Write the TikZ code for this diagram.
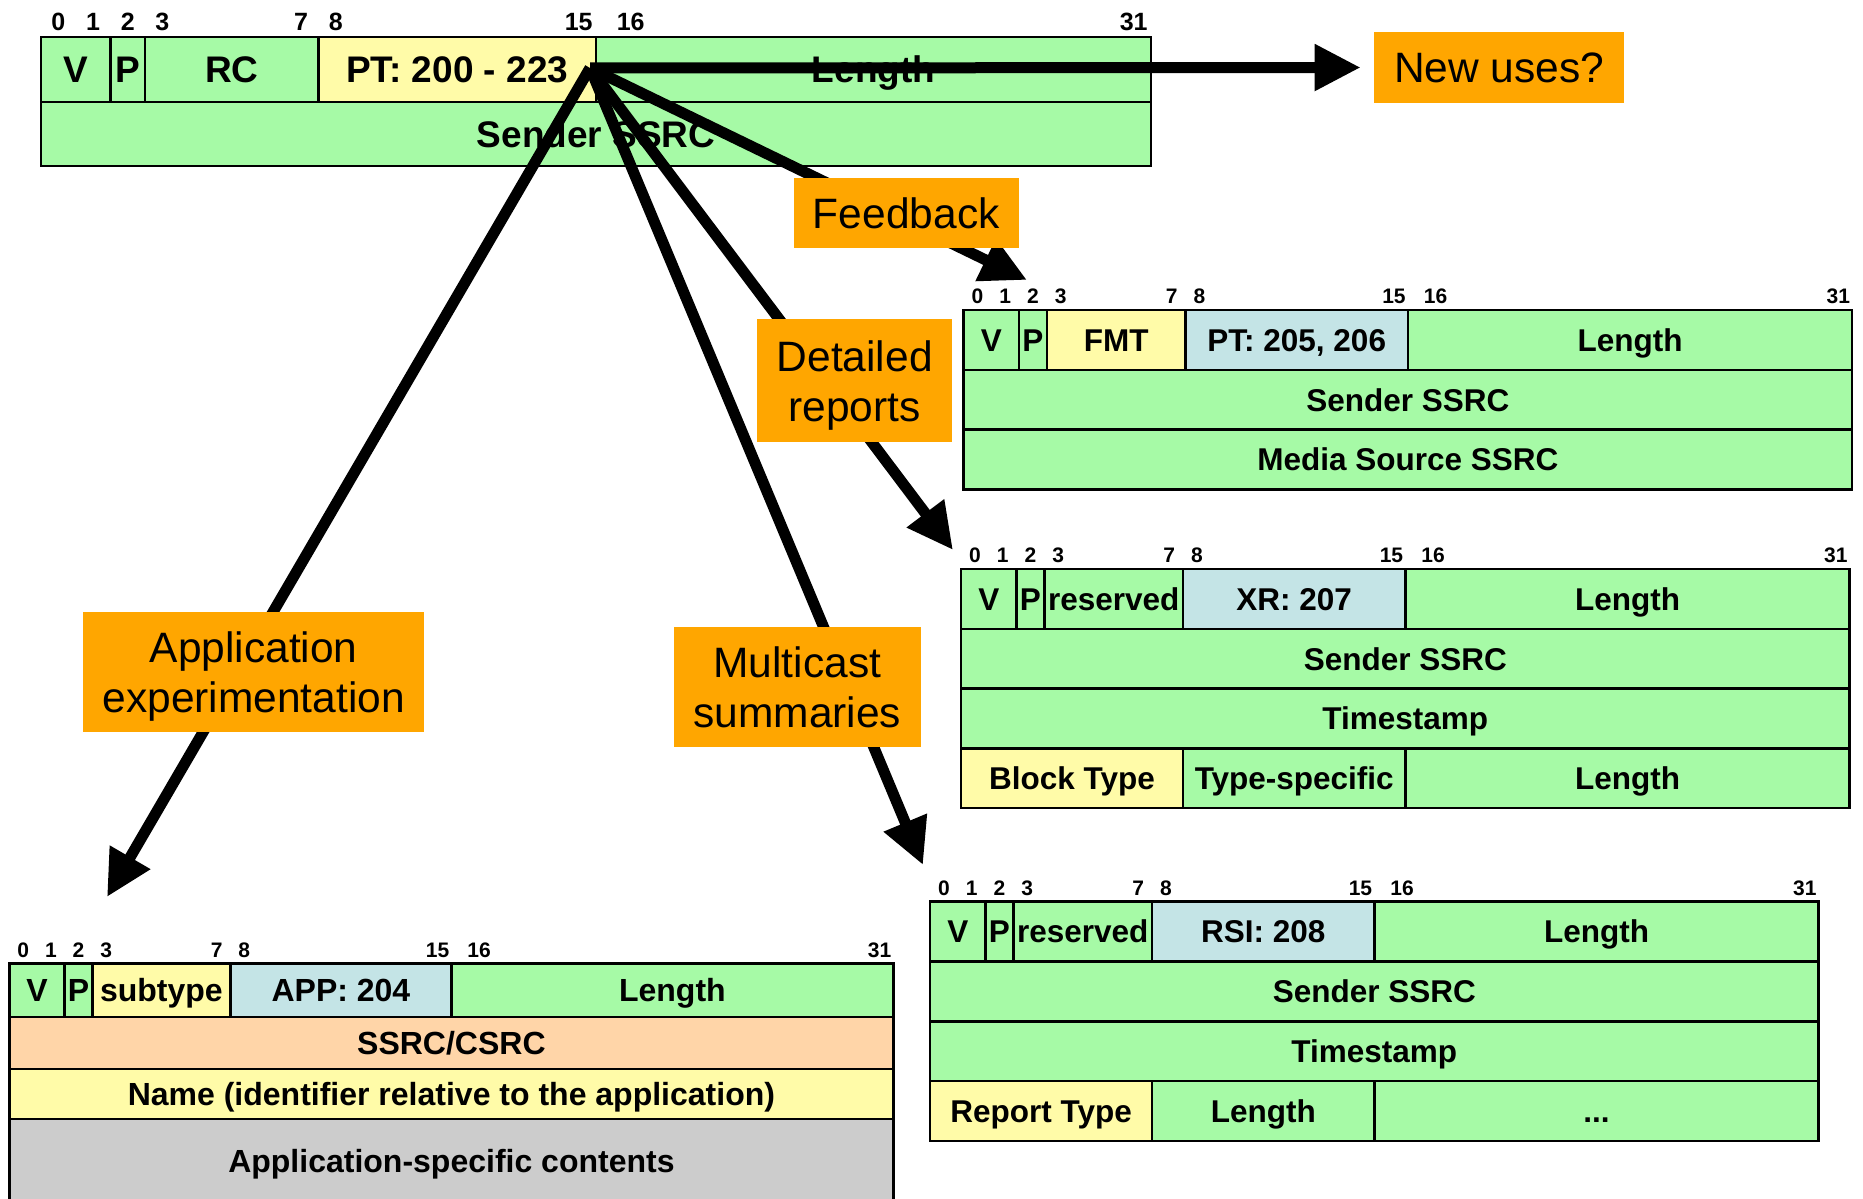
\documentclass[tikz,border=0pt]{standalone}
\usepackage{fontspec}
\setmainfont{Liberation Sans}
\usetikzlibrary{positioning,arrows.meta}

\definecolor{grn}{RGB}{166,250,166}
\definecolor{ylw}{RGB}{255,251,168}
\definecolor{blu}{RGB}{196,228,230}
\definecolor{slm}{RGB}{255,213,168}
\definecolor{gry}{RGB}{204,204,204}
\definecolor{orng}{RGB}{255,166,0}

% bit numbers above the first row of a packet
\newcommand{\bitnums}[2]{%
	\foreach \lbl/\pos in {0/0.5,1/1.5,2/2.5,3/3.5,7/7.5,8/8.5,15/15.5,16/17,31/31.5}
		\node[num, anchor=base] at ([xshift=\pos*#2, yshift=6.5pt]#1.north west) {\lbl};}

\begin{document}
\begin{tikzpicture}[x=1pt, y=-1pt,
	fld/.style={draw, line width=2.5pt, fill=#1, inner sep=0pt, outer sep=0pt, minimum height=\rh, text height=\tht, text depth=0pt, font=\bfseries\fontsize{\fs}{\fs}\selectfont},
	bits/.style={minimum width=#1*\bw},
	num/.style={inner sep=0pt, font=\bfseries\fontsize{\ns}{\ns}\selectfont},
	tag/.style={fill=orng, inner sep=0pt, align=center, anchor=north west, text depth=0pt, font=\fontsize{42.5}{50}\selectfont},
	arr/.style={line width=11pt, -{Triangle[length=46pt,width=44pt]}}]
	\useasboundingbox (0,0) rectangle (1863,1199);
	\clip (0,0) rectangle (1863,1199);

	% common header
	\def\bw{34.69pt}\def\rh{65pt}\def\fs{37}\def\tht{26.5pt}\def\ns{25}
	\node[fld=grn, bits=2, anchor=north west] (tpV) at (41,37) {V};
	\node[fld=grn, bits=1, right=0pt of tpV] (tpP) {P};
	\node[fld=grn, bits=5, right=0pt of tpP] (tpRC) {RC};
	\node[fld=ylw, bits=8, right=0pt of tpRC] (tpPT) {PT: 200 - 223};
	\node[fld=grn, bits=16, right=0pt of tpPT] (tpLen) {Length};
	\def\rh{64pt}
	\node[fld=grn, bits=32, anchor=north west] (tpSSRC) at (tpV.south west) {Sender SSRC};
	\bitnums{tpV}{\bw}

	% feedback
	\def\bw{27.77pt}\def\rh{59.8pt}\def\fs{31.5}\def\tht{22.6pt}\def\ns{21}
	\node[fld=grn, bits=2, anchor=north west] (fbV) at (963.5,310) {V};
	\node[fld=grn, bits=1, right=0pt of fbV] (fbP) {P};
	\node[fld=ylw, bits=5, right=0pt of fbP] (fbFMT) {FMT};
	\node[fld=blu, bits=8, right=0pt of fbFMT] (fbPT) {PT: 205, 206};
	\node[fld=grn, bits=16, right=0pt of fbPT] (fbLen) {Length};
	\node[fld=grn, bits=32, anchor=north west] (fbSSRC) at (fbV.south west) {Sender SSRC};
	\node[fld=grn, bits=32, anchor=north west] (fbMedia) at (fbSSRC.south west) {Media Source SSRC};
	\bitnums{fbV}{\bw}

	% extended reports
	\node[fld=grn, bits=2, anchor=north west] (xrV) at (961,569) {V};
	\node[fld=grn, bits=1, right=0pt of xrV] (xrP) {P};
	\node[fld=grn, bits=5, right=0pt of xrP] (xrRes) {reserved};
	\node[fld=blu, bits=8, right=0pt of xrRes] (xrXR) {XR: 207};
	\node[fld=grn, bits=16, right=0pt of xrXR] (xrLen) {Length};
	\node[fld=grn, bits=32, anchor=north west] (xrSSRC) at (xrV.south west) {Sender SSRC};
	\node[fld=grn, bits=32, anchor=north west] (xrTS) at (xrSSRC.south west) {Timestamp};
	\node[fld=ylw, bits=8, anchor=north west] (xrBT) at (xrTS.south west) {Block Type};
	\node[fld=grn, bits=8, right=0pt of xrBT] (xrSpec) {Type-specific};
	\node[fld=grn, bits=16, right=0pt of xrSpec] (xrBLen) {Length};
	\bitnums{xrV}{\bw}

	% receiver summary information
	\node[fld=grn, bits=2, anchor=north west] (rsV) at (930,901.7) {V};
	\node[fld=grn, bits=1, right=0pt of rsV] (rsP) {P};
	\node[fld=grn, bits=5, right=0pt of rsP] (rsRes) {reserved};
	\node[fld=blu, bits=8, right=0pt of rsRes] (rsRSI) {RSI: 208};
	\node[fld=grn, bits=16, right=0pt of rsRSI] (rsLen) {Length};
	\node[fld=grn, bits=32, anchor=north west] (rsSSRC) at (rsV.south west) {Sender SSRC};
	\node[fld=grn, bits=32, anchor=north west] (rsTS) at (rsSSRC.south west) {Timestamp};
	\node[fld=ylw, bits=8, anchor=north west] (rsRT) at (rsTS.south west) {Report Type};
	\node[fld=grn, bits=8, right=0pt of rsRT] (rsRLen) {Length};
	\node[fld=grn, bits=16, right=0pt of rsRLen] (rsMore) {...};
	\bitnums{rsV}{\bw}

	% application defined
	\def\bw{27.62pt}\def\rh{53.5pt}\def\fs{32}\def\tht{22.9pt}
	\node[fld=grn, bits=2, anchor=north west] (apV) at (9.5,963.5) {V};
	\node[fld=grn, bits=1, right=0pt of apV] (apP) {P};
	\node[fld=ylw, bits=5, right=0pt of apP] (apSub) {subtype};
	\node[fld=blu, bits=8, right=0pt of apSub] (apAPP) {APP: 204};
	\node[fld=grn, bits=16, right=0pt of apAPP] (apLen) {Length};
	\def\rh{52pt}
	\node[fld=slm, bits=32, anchor=north west] (apSSRC) at (apV.south west) {SSRC/CSRC};
	\def\rh{50pt}
	\node[fld=ylw, bits=32, anchor=north west] (apName) at (apSSRC.south west) {Name (identifier relative to the application)};
	\def\rh{84pt}
	\node[fld=gry, bits=32, anchor=north west] (apData) at (apName.south west) {Application-specific contents};
	\bitnums{apV}{\bw}

	% arrows out of the packet type
	\coordinate (hub) at (590,68);
	\coordinate (newTip) at (1360.7,67.5);
	\coordinate (fbTip) at (1027,280);
	\coordinate (xrTip) at (953,550);
	\coordinate (rsTip) at (923,865);
	\coordinate (apTip) at (107,897);
	\draw[arr] (hub) -- (newTip);
	\draw[arr] (hub) -- (fbTip);
	\draw[arr] (hub) -- (xrTip);
	\draw[arr] (hub) -- (rsTip);
	\draw[arr] (hub) -- (apTip);

	\node[tag, minimum width=250pt, minimum height=71pt] (newU) at (1374,32) {New uses?};
	\node[tag, minimum width=225pt, minimum height=70pt] (fbTag) at (793.6,178) {Feedback};
	\node[tag, minimum width=195pt, minimum height=123pt] (xrTag) at (757,319) {Detailed\\reports};
	\node[tag, minimum width=341pt, minimum height=120pt] (apTag) at (83,612) {Application\\experimentation};
	\node[tag, minimum width=247pt, minimum height=120pt] (rsTag) at (673.6,627) {Multicast\\summaries};
\end{tikzpicture}
\end{document}
